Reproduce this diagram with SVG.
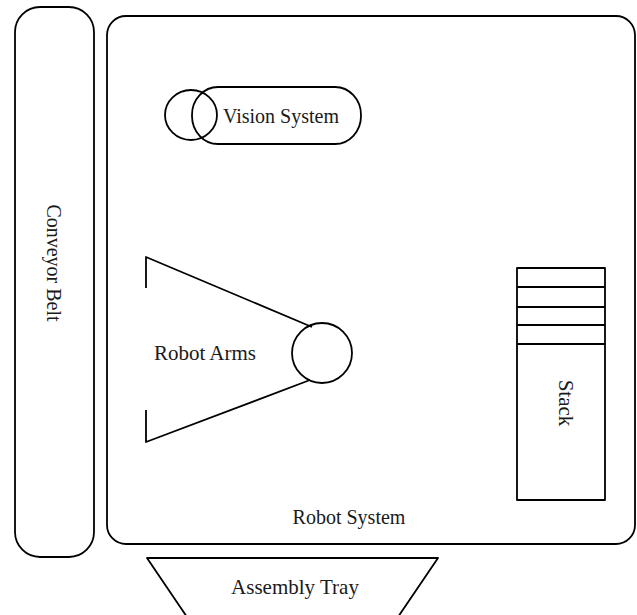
<svg xmlns="http://www.w3.org/2000/svg" width="637" height="615" viewBox="0 0 637 615">
  <style>
    .shape { fill: none; stroke: #000; stroke-width: 1.8; stroke-linejoin: round; }
    .label { font-family: "Liberation Serif", "Times New Roman", serif; font-size: 20px; fill: #1a1a1a; text-anchor: middle; }
    .big { font-size: 21px; }
  </style>
  <rect width="637" height="615" fill="#fff"/>

  <g id="conveyor-belt">
    <rect class="shape" x="15" y="7" width="79" height="550" rx="25" ry="25"/>
    <text class="label" transform="translate(47,263) rotate(90)">Conveyor Belt</text>
  </g>

  <g id="robot-system">
    <rect class="shape" x="107" y="16" width="528" height="528" rx="19" ry="19"/>
    <text class="label" x="349" y="524">Robot System</text>
  </g>

  <g id="vision-system">
    <rect class="shape" x="192" y="87" width="169" height="57" rx="26" ry="28"/>
    <ellipse class="shape" cx="191" cy="115" rx="26" ry="25"/>
    <text class="label" x="281" y="123">Vision System</text>
  </g>

  <g id="robot-arms">
    <polyline class="shape" points="146,288 146,257 312,327"/>
    <polyline class="shape" points="146,410 146,442 310,380"/>
    <circle class="shape" cx="322" cy="353" r="30"/>
    <text class="label big" x="205" y="360">Robot Arms</text>
  </g>

  <g id="stack">
    <rect class="shape" x="517" y="268" width="88" height="232"/>
    <line class="shape" x1="517" y1="287" x2="605" y2="287"/>
    <line class="shape" x1="517" y1="307" x2="605" y2="307"/>
    <line class="shape" x1="517" y1="325" x2="605" y2="325"/>
    <line class="shape" x1="517" y1="344" x2="605" y2="344"/>
    <text class="label big" transform="translate(559,403) rotate(90)">Stack</text>
  </g>

  <g id="assembly-tray">
    <polyline class="shape" points="187,617 147,558 438,558 398,617"/>
    <text class="label big" x="295" y="594">Assembly Tray</text>
  </g>

  <g id="connectors"></g>
</svg>
